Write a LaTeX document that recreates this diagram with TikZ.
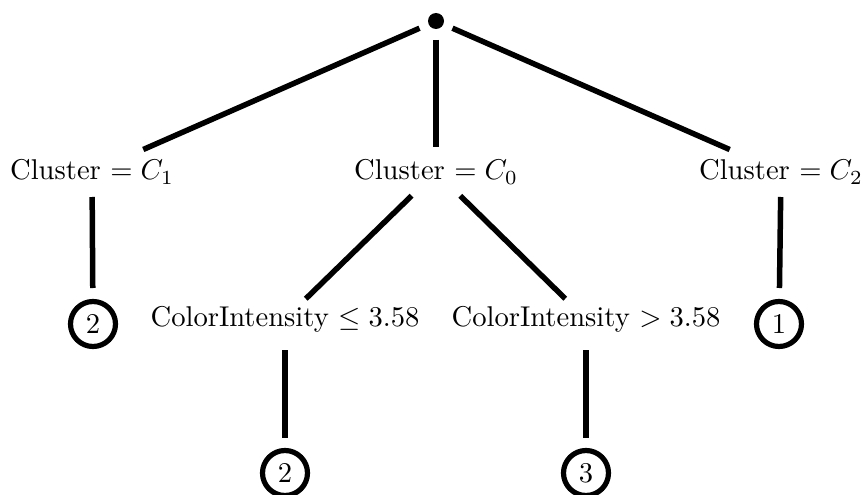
\documentclass[tikz,border=0pt]{standalone}
\usepackage{graphicx}
\newcommand{\sx}[1]{\scalebox{2.86}{#1}}
\begin{document}
\begin{tikzpicture}[x=1pt,y=-1pt,
  lbl/.style={inner sep=0pt},
  leaf/.style={circle,draw,line width=5.2pt,minimum size=45pt,inner sep=0pt},
  edge/.style={line width=5.5pt},
  ]
\useasboundingbox (0,0) rectangle (863,495);
\node[circle,fill,inner sep=0pt,minimum size=16pt] (root) at (436,21) {};
\node[lbl] (c1) at (92,172) {\sx{Cluster $= C_1$}};
\node[lbl] (c0) at (436,172) {\sx{Cluster $= C_0$}};
\node[lbl] (c2) at (781,172) {\sx{Cluster $= C_2$}};
\node[leaf] (l1) at (93,324) {\sx{2}};
\node[lbl] (ci1) at (285,319) {\sx{ColorIntensity $\leq 3.58$}};
\node[lbl] (ci2) at (586,319) {\sx{ColorIntensity $> 3.58$}};
\node[leaf] (l4) at (779,324) {\sx{1}};
\node[leaf] (l2) at (285,473) {\sx{2}};
\node[leaf] (l3) at (586,473) {\sx{3}};
\draw[edge,shorten <=18pt,shorten >=56pt] (root.center) -- (c1.center);
\draw[edge,shorten <=19pt,shorten >=25pt] (root.center) -- (c0.center);
\draw[edge,shorten <=18pt,shorten >=56pt] (root.center) -- (c2.center);
\draw[edge,shorten <=34pt,shorten >=29pt] (c0.center) -- (ci1.center);
\draw[edge,shorten <=34pt,shorten >=29pt] (c0.center) -- (ci2.center);
\draw[edge,shorten <=25pt,shorten >=36pt] (c1.center) -- (l1.center);
\draw[edge,shorten <=25pt,shorten >=36pt] (c2.center) -- (l4.center);
\draw[edge,shorten <=31pt,shorten >=35pt] (ci1.center) -- (l2.center);
\draw[edge,shorten <=31pt,shorten >=35pt] (ci2.center) -- (l3.center);
\end{tikzpicture}
\end{document}
